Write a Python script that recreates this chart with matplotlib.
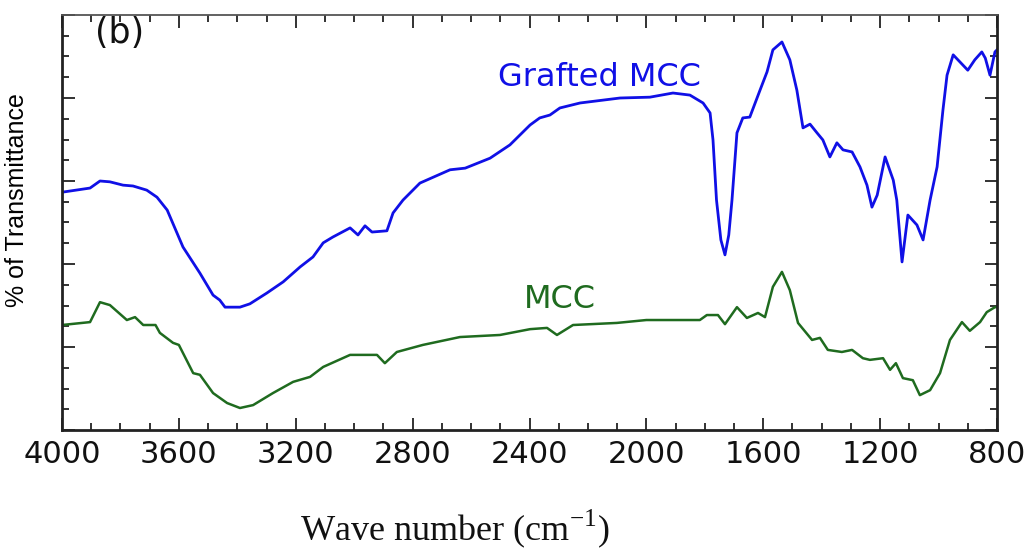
import matplotlib
matplotlib.use("Agg")
import matplotlib.pyplot as plt
from matplotlib.ticker import MultipleLocator

# Wavenumbers (cm^-1) and % transmittance (arbitrary 0-100 scale)
grafted_wn = [4000, 3904, 3870, 3836, 3791, 3757, 3710, 3675, 3640, 3586, 3528, 3483,
              3460, 3442, 3391, 3357, 3299, 3243, 3185, 3141, 3106, 3073, 3014, 2987,
              2963, 2939, 2888, 2867, 2833, 2775, 2672, 2620, 2535, 2467, 2398, 2365,
              2330, 2296, 2227, 2090, 1988, 1909, 1851, 1806, 1782, 1772, 1760, 1745,
              1731, 1718, 1707, 1690, 1670, 1646, 1611, 1587, 1567, 1536, 1509, 1485,
              1464, 1440, 1416, 1396, 1372, 1348, 1327, 1296, 1269, 1245, 1228, 1210,
              1183, 1155, 1143, 1125, 1105, 1074, 1053, 1029, 1005, 985, 971, 950,
              927, 900, 876, 852, 840, 824, 807, 800]
grafted_t = [57.3, 58.3, 60.0, 59.8, 59.0, 58.8, 57.8, 56.1, 53.0, 44.1, 37.8, 32.5,
             31.3, 29.6, 29.6, 30.4, 33.0, 35.7, 39.3, 41.7, 45.1, 46.5, 48.7, 47.0,
             49.2, 47.7, 48.0, 52.3, 55.4, 59.5, 62.7, 63.1, 65.5, 68.7, 73.5, 75.2,
             75.9, 77.6, 78.8, 80.0, 80.2, 81.2, 80.7, 78.8, 76.4, 69.9, 55.4, 45.8,
             42.2, 47.0, 55.4, 71.6, 75.2, 75.4, 81.9, 86.3, 91.6, 93.5, 89.2, 81.9,
             72.8, 73.7, 71.6, 69.9, 65.8, 69.2, 67.5, 67.0, 63.4, 59.0, 53.7, 56.6,
             65.8, 60.2, 55.4, 40.5, 51.8, 49.4, 45.8, 55.4, 63.4, 77.1, 85.5, 90.4,
             88.7, 86.7, 89.2, 91.1, 89.6, 85.5, 91.1, 91.6]

mcc_wn = [4000, 3904, 3870, 3836, 3778, 3750, 3722, 3680, 3665, 3620, 3600, 3551,
          3528, 3483, 3435, 3391, 3346, 3278, 3209, 3151, 3106, 3014, 2922, 2895,
          2854, 2765, 2638, 2501, 2398, 2340, 2306, 2251, 2101, 2000, 1817, 1793,
          1755, 1731, 1690, 1656, 1618, 1594, 1567, 1536, 1509, 1481, 1433, 1406,
          1379, 1331, 1296, 1259, 1235, 1190, 1166, 1146, 1122, 1088, 1064, 1029,
          995, 961, 920, 893, 858, 835, 807, 800]
mcc_t = [25.3, 26.0, 30.8, 30.1, 26.5, 27.2, 25.3, 25.3, 23.4, 21.0, 20.5, 13.7,
         13.3, 8.9, 6.5, 5.3, 6.0, 8.9, 11.6, 12.8, 15.2, 18.1, 18.1, 16.1,
         18.8, 20.5, 22.4, 22.9, 24.3, 24.6, 22.9, 25.3, 25.8, 26.5, 26.5, 27.7,
         27.7, 25.5, 29.6, 27.0, 28.2, 27.2, 34.5, 38.1, 33.7, 25.8, 21.7, 22.2,
         19.3, 18.8, 19.3, 17.3, 16.9, 17.3, 14.5, 16.1, 12.5, 12.0, 8.4, 9.6,
         13.7, 21.7, 26.0, 23.9, 26.0, 28.4, 29.6, 29.6]

x_ticks = [4000, 3600, 3200, 2800, 2400, 2000, 1600, 1200, 800]

BLUE = "#1010e6"
GREEN = "#1f6b1f"

plt.rcParams["mathtext.fontset"] = "custom"
plt.rcParams["mathtext.rm"] = "Liberation Serif"

fig = plt.figure(figsize=(10.27, 5.5), dpi=100)
ax = fig.add_axes([62 / 1027, 120 / 550, 935 / 1027, 415 / 550])

ax.plot(grafted_wn, grafted_t, color=BLUE, lw=2.0, solid_joinstyle="round")
ax.plot(mcc_wn, mcc_t, color=GREEN, lw=1.8, solid_joinstyle="round")

ax.set_xlim(4000, 800)
ax.set_ylim(0, 100)
ax.set_xticks(x_ticks)
ax.set_xticklabels([str(t) for t in x_ticks])
ax.xaxis.set_minor_locator(MultipleLocator(100))
ax.yaxis.set_major_locator(MultipleLocator(20))
ax.yaxis.set_minor_locator(MultipleLocator(5))
ax.tick_params(axis="both", which="both", direction="in", top=True, right=True,
               color="#222222", width=1.3)
ax.tick_params(axis="both", which="major", length=9)
ax.tick_params(axis="both", which="minor", length=5)
ax.tick_params(axis="y", which="both", labelleft=False)
ax.tick_params(axis="x", which="major", labelsize=22, pad=7)
for lbl in ax.get_xticklabels():
    lbl.set_family("DejaVu Sans")
    lbl.set_color("#111111")
for side in ["left", "bottom", "right"]:
    ax.spines[side].set_linewidth(2.0)
    ax.spines[side].set_color("#222222")
ax.spines["top"].set_linewidth(1.3)
ax.spines["top"].set_color("#555555")

ax.set_ylabel("% of Transmittance", fontsize=18,
              family=["Liberation Sans Narrow", "Liberation Sans", "DejaVu Sans"])
ax.yaxis.set_label_coords(-33 / 935, (430 - 200) / 415)

fig.text(120 / 1027, 1 - 33 / 550, "(b)", fontsize=25, family="DejaVu Sans",
         ha="center", va="center", color="#111111")
fig.text(599 / 1027, 1 - 77 / 550, "Grafted MCC", fontsize=23, family="DejaVu Sans",
         ha="center", va="center", color=BLUE)
fig.text(560 / 1027, 1 - 299 / 550, "MCC", fontsize=23, family="DejaVu Sans",
         ha="center", va="center", color=GREEN)

fig.text(455 / 1027, 1 - 540 / 550, r"Wave number (cm$^{\mathregular{-1}}$)",
         fontsize=26, family="Liberation Serif", ha="center", va="baseline",
         color="#111111")

fig.savefig("out.png", dpi=100)
